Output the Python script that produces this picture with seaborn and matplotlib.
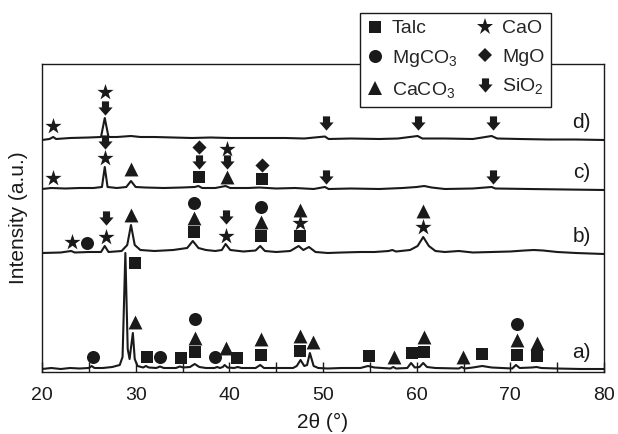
import numpy as np
import pandas as pd
import matplotlib.pyplot as plt
import seaborn as sns
from matplotlib.path import Path
from matplotlib.lines import Line2D

# ---- XRD traces (2theta, intensity above own baseline, a.u.) ----
A_2THETA = [20, 21, 22, 23, 24, 25.0, 25.3, 25.6, 26.5, 27.5, 28.3, 28.6, 28.9, 29.15, 29.35, 29.55, 29.7,
            29.9, 30.2, 30.8, 31.1, 31.4, 32.2, 32.6, 33.0, 34.3, 34.7, 35.1, 35.8, 36.3, 36.8, 37.5, 38.4,
            38.7, 39.0, 39.3, 39.5, 39.8, 40.5, 40.9, 41.3, 42.8, 43.3, 43.7, 46.8, 47.2, 47.6, 48.0, 48.3,
            48.6, 49.0, 49.5, 50.5, 52, 54.0, 54.8, 55.5, 57.2, 57.5, 57.8, 59.0, 59.4, 59.8, 60.3, 60.7,
            61.1, 62.0, 64.5, 64.8, 65.1, 66.0, 67.0, 68.0, 70.2, 70.6, 71.0, 72.3, 72.8, 73.3, 75, 77.5, 80]
A_INT = [0, 1, 0, 1, 0.5, 1, 3, 1, 1, 2, 4, 12, 116, 20, 10, 25, 36,
         10, 3, 1.5, 3, 1.5, 1, 2.5, 1, 1, 2.5, 1.5, 2, 5, 2, 1, 1,
         2, 1, 2, 4, 1.5, 1, 2, 1, 1, 4, 1, 1, 3, 9, 3, 4,
         16, 3, 1, 0.5, 1, 1, 3, 1.5, 0.5, 2, 0.5, 1, 6, 1.5, 2, 6,
         2, 1, 0.5, 2, 0.5, 1.5, 3, 1.5, 0.5, 4, 1, 1.5, 2, 1, 0.5, 0, 0]

B_2THETA = [20, 22, 23.1, 23.5, 25, 26.3, 26.7, 27.1, 28.5, 29.1, 29.5, 29.9, 30.5, 32, 34, 35.5, 36.1,
            36.7, 37.5, 38.5, 39.2, 39.6, 40.1, 41.5, 42.8, 43.3, 43.8, 45, 46.5, 47.4, 47.9, 48.5, 49.2,
            50.5, 52, 54, 55.5, 57.0, 57.4, 57.8, 59.3, 60.1, 60.7, 61.3, 62, 63, 64.5, 66, 68, 70, 71.5,
            72.5, 73.5, 75, 77, 80]
B_INT = [0, 0.5, 2, 0.5, 1, 1, 7, 1, 2, 8, 28, 8, 3, 2, 3, 5, 12,
         5, 3, 2, 3, 9, 3, 1.5, 2.5, 7, 2, 1, 2, 7, 3, 6, 1,
         0, 0.5, 1, 1, 2, 3, 1.5, 3, 7, 16, 7, 2, 1, 2, 0.5, 1, 1.5, 2.5,
         3, 2.5, 1, 0, -1]

C_2THETA = [20, 21, 22.5, 24, 25.5, 26.4, 26.7, 27.0, 28, 29.0, 29.5, 30.0, 31, 33, 35, 36.3, 36.7,
            37.1, 38.5, 39.6, 40.1, 42, 43.2, 45, 47, 49, 50.2, 50.6, 53, 56, 58.5, 60, 60.8, 61.6, 63,
            66, 68.0, 68.4, 72, 76, 80]
C_INT = [0, 1, 0.5, 1, 1, 2, 22, 2, 1, 2, 8, 2, 1.5, 1, 1.5, 2, 3,
         1, 1, 3, 1, 1, 1.5, 0.5, 1, 0, 2, 0, 0.5, 0, 1, 2, 3, 1.5, 0,
         0.5, 2, 0.5, 0, -0.5, -1]

D_2THETA = [20, 20.8, 21.2, 21.5, 23, 25, 26.3, 26.7, 27.1, 28, 29.5, 30.5, 32, 34, 36, 38, 40, 43, 46,
            48, 50.2, 50.6, 53, 56, 58, 60.1, 60.6, 63, 66, 68.0, 68.6, 71, 74, 77, 80]
D_INT = [-1, 0, 2, 0, 1, 1.5, 2, 21, 2, 2, 3, 2, 2, 1.5, 1, 1.5, 1, 1, 1,
         0.5, 2.5, 0, 0.5, 0, 0.5, 3, 0.5, 0.5, 0, 3, 0.5, 0, -0.5, -0.5, -1]

SAMPLES = ['a)', 'b)', 'c)', 'd)']

# ---- phase markers: phase, 2theta, height above the trace baseline ----
A_MARK_PHASE = ['MgCO3', 'Talc', 'CaCO3', 'Talc', 'MgCO3', 'Talc', 'MgCO3', 'CaCO3', 'Talc', 'MgCO3',
                'CaCO3', 'Talc', 'CaCO3', 'Talc', 'CaCO3', 'Talc', 'CaCO3', 'Talc', 'CaCO3', 'Talc',
                'CaCO3', 'Talc', 'CaCO3', 'Talc', 'MgCO3', 'CaCO3', 'Talc', 'CaCO3', 'Talc']
A_MARK_POS = [25.4, 29.9, 29.9, 31.2, 32.6, 34.8, 36.3, 36.3, 36.3, 38.5,
              39.6, 40.8, 43.4, 43.4, 47.5, 47.5, 48.9, 54.9, 57.6, 59.5,
              60.8, 60.8, 64.9, 67.0, 70.7, 70.7, 70.7, 72.8, 72.8]
A_MARK_H = [12, 106, 47, 12, 12, 11, 50, 31, 17, 12,
            21, 11, 30, 14, 33, 18, 27, 13, 12, 16,
            32, 17, 12, 15, 45, 29, 14, 26, 13]

B_MARK_PHASE = ['CaO', 'MgCO3', 'SiO2', 'CaO', 'CaCO3', 'MgCO3', 'CaCO3', 'Talc', 'SiO2', 'CaO',
                'MgCO3', 'CaCO3', 'Talc', 'CaCO3', 'CaO', 'Talc', 'CaCO3', 'CaO']
B_MARK_POS = [23.2, 24.8, 26.8, 26.8, 29.5, 36.2, 36.2, 36.2, 39.6, 39.6,
              43.4, 43.4, 43.4, 47.5, 47.5, 47.5, 60.7, 60.7]
B_MARK_H = [11, 10, 35, 16, 38, 50, 35, 21, 36, 17,
            46, 31, 17, 43, 30, 17, 42, 26]

C_MARK_PHASE = ['CaO', 'SiO2', 'CaO', 'CaCO3', 'MgO', 'SiO2', 'Talc', 'CaO', 'SiO2', 'CaCO3',
                'MgO', 'Talc', 'SiO2', 'SiO2']
C_MARK_POS = [21.2, 26.7, 26.7, 29.5, 36.8, 36.8, 36.8, 39.8, 39.8, 39.8,
              43.5, 43.5, 50.3, 68.2]
C_MARK_H = [11, 47, 31, 20, 42, 27, 12, 40, 27, 12,
            24, 10, 12, 12]

D_MARK_PHASE = ['CaO', 'CaO', 'SiO2', 'SiO2', 'SiO2', 'SiO2']
D_MARK_POS = [21.2, 26.7, 26.7, 50.3, 60.1, 68.2]
D_MARK_H = [13, 47, 31, 16, 16, 16]

PHASES = ['Talc', 'MgCO3', 'CaCO3', 'CaO', 'MgO', 'SiO2']
PHASE_LABELS = ['Talc', 'MgCO$_3$', 'CaCO$_3$', 'CaO', 'MgO', 'SiO$_2$']

# vertical stacking of the traces
OFFSETS = [3, 119, 183, 233]

# thick down arrow used for SiO2
ARROW = Path([(-0.5, 1.0), (0.5, 1.0), (0.5, 0.15), (1.0, 0.15), (0.0, -1.0),
              (-1.0, 0.15), (-0.5, 0.15), (-0.5, 1.0)], closed=True)
MARKERS = {'Talc': 's', 'MgCO3': 'o', 'CaCO3': '^', 'CaO': '*', 'MgO': 'D', 'SiO2': ARROW}
SIZES = {'Talc': 75, 'MgCO3': 88, 'CaCO3': 100, 'CaO': 150, 'MgO': 52, 'SiO2': 105}
INK = '#1a1a1a'


def main():
    sns.set_theme(style='ticks')
    plt.rcParams['font.family'] = ['Liberation Sans', 'DejaVu Sans']
    plt.rcParams['mathtext.fontset'] = 'custom'
    plt.rcParams['mathtext.rm'] = 'Liberation Sans'
    plt.rcParams['mathtext.it'] = 'Liberation Sans:italic'

    fig = plt.figure(figsize=(6.18, 4.34), dpi=100)
    ax = fig.add_axes([42 / 618, 1 - 372 / 434, 562 / 618, 308 / 434])

    traces = [(A_2THETA, A_INT), (B_2THETA, B_INT), (C_2THETA, C_INT), (D_2THETA, D_INT)]
    marks = [(A_MARK_PHASE, A_MARK_POS, A_MARK_H), (B_MARK_PHASE, B_MARK_POS, B_MARK_H),
             (C_MARK_PHASE, C_MARK_POS, C_MARK_H), (D_MARK_PHASE, D_MARK_POS, D_MARK_H)]

    for name, off, (tx, ty), (mp, mx, mh) in zip(SAMPLES, OFFSETS, traces, marks):
        y = np.array(ty, dtype=float) + off
        sns.lineplot(x=tx, y=y, ax=ax, color=INK, linewidth=1.5,
                     estimator=None, sort=False)
        df = pd.DataFrame({'phase': mp, 'x': mx, 'y': np.array(mh, dtype=float) + off})
        for ph in PHASES:
            sub = df[df['phase'] == ph]
            if sub.empty:
                continue
            sns.scatterplot(data=sub, x='x', y='y', ax=ax, marker=MARKERS[ph], s=SIZES[ph],
                            color=INK, linewidth=0, zorder=3)
        ax.text(77.6, off + 16, name, fontsize=15, ha='center', va='center', color=INK)

    ax.set_xlim(20, 80)
    ax.set_ylim(0, 308)
    ax.set_xticks(range(20, 81, 10))
    ax.set_xticks(range(25, 80, 10), minor=True)
    ax.set_yticks([])
    ax.tick_params(axis='x', which='both', direction='in', length=7, width=1, pad=11,
                   labelsize=14, colors=INK, top=False)
    for sp in ax.spines.values():
        sp.set_linewidth(1.0)
        sp.set_color(INK)
    ax.set_xlabel('2θ (°)', fontsize=15, labelpad=6, color=INK)
    ax.set_ylabel('Intensity (a.u.)', fontsize=15, labelpad=10, color=INK)

    handles = []
    for ph, lab in zip(PHASES, PHASE_LABELS):
        handles.append(Line2D([], [], linestyle='none', marker=MARKERS[ph], color=INK,
                              markersize=np.sqrt(SIZES[ph]), markeredgewidth=0, label=lab))
    leg = fig.legend(handles=handles, ncol=2, loc='upper left',
                     bbox_to_anchor=(360 / 618, 1 - 13 / 434), borderaxespad=0,
                     fontsize=14, frameon=True, fancybox=False, handlelength=0.8,
                     handletextpad=0.5, columnspacing=1.0, labelspacing=0.55,
                     borderpad=0.35, framealpha=1)
    leg.get_frame().set_edgecolor(INK)
    leg.get_frame().set_linewidth(1.0)

    fig.savefig('out.png', dpi=100)


if __name__ == '__main__':
    main()
